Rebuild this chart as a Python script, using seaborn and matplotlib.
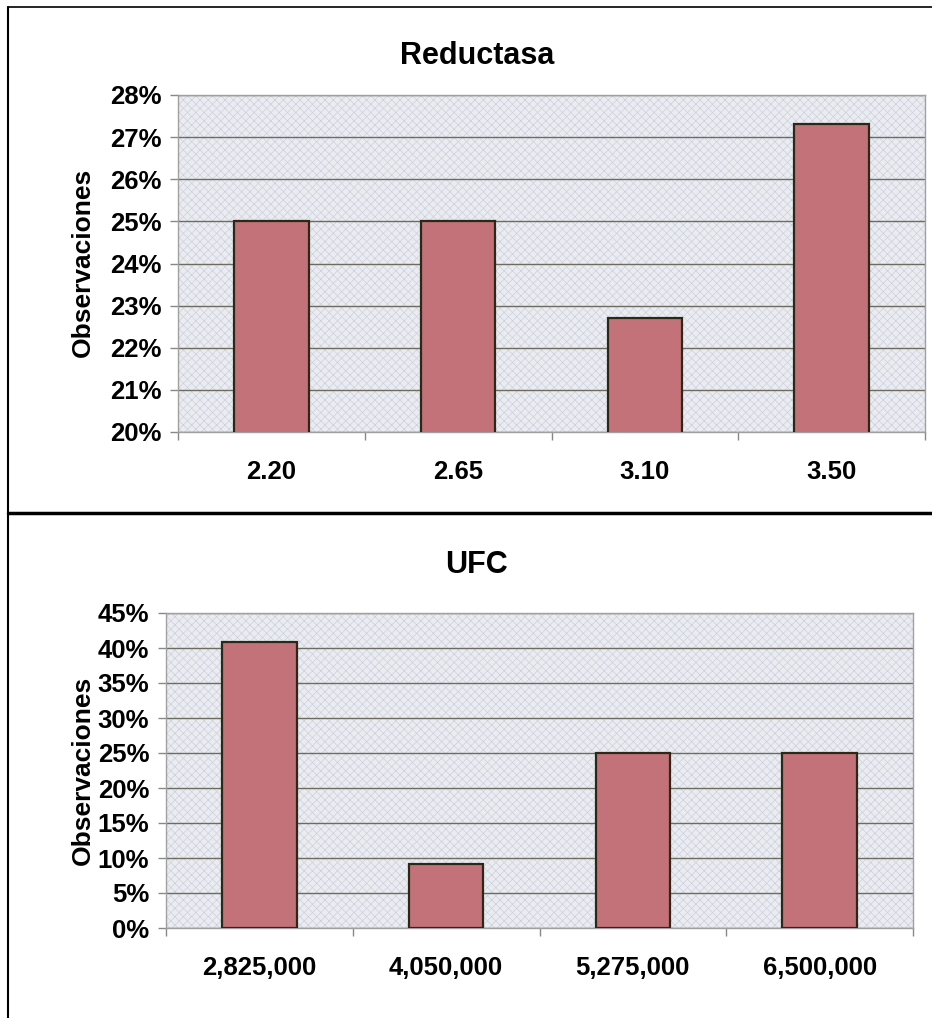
import numpy as np
import pandas as pd
import matplotlib
matplotlib.use("Agg")
import matplotlib.pyplot as plt
import seaborn as sns
from matplotlib.patches import Rectangle
from matplotlib.ticker import FixedLocator, PercentFormatter

# --- data ---
red_cats = ["2.20", "2.65", "3.10", "3.50"]
red_vals = [25.0, 25.0, 22.7, 27.3]

ufc_cats = ["2,825,000", "4,050,000", "5,275,000", "6,500,000"]
ufc_vals = [40.9, 9.1, 25.0, 25.0]

sns.set_style("white")
plt.rcParams["font.family"] = ["Liberation Sans", "DejaVu Sans"]
plt.rcParams["font.weight"] = "bold"
plt.rcParams["hatch.linewidth"] = 0.5
plt.rcParams["text.color"] = "black"
plt.rcParams["xtick.color"] = "black"
plt.rcParams["ytick.color"] = "black"

BAR = "#c27278"
EDGE = "#2b2818"
GRID = "#6d6c5e"
BG = "#eaecf2"

fig = plt.figure(figsize=(9.32, 10.18), dpi=100)
W, H = 932, 1018


def px_axes(l, t, r, b):
    return fig.add_axes([l / W, 1 - b / H, (r - l) / W, (b - t) / H])


def draw_panel(ax, cats, vals, ylim, ystep, title, ty, ly):
    df = pd.DataFrame({"cat": cats, "val": vals})
    ax.set_facecolor(BG)
    ax.add_patch(Rectangle((0, 0), 1, 1, transform=ax.transAxes, facecolor="none",
                           hatch="xxxx", edgecolor="#cdd0d9", lw=0, zorder=0))
    sns.barplot(data=df, x="cat", y="val", color=BAR, width=0.4, edgecolor=EDGE,
                linewidth=1.6, saturation=1, ax=ax, zorder=3)
    ax.set_ylim(*ylim)
    ax.set_xlim(-0.5, len(cats) - 0.5)
    ax.set_yticks(np.arange(ylim[0], ylim[1] + 0.01, ystep))
    ax.yaxis.set_major_formatter(PercentFormatter(decimals=0))
    ax.yaxis.grid(True, color=GRID, lw=1.0, zorder=1)
    ax.set_axisbelow(True)
    ax.tick_params(axis="y", direction="out", length=6, width=1, color="#888888",
                   labelcolor="black", pad=6, labelsize=18.5, left=True)
    ax.tick_params(axis="x", which="major", length=0, pad=20, labelsize=18.5,
                   labelcolor="black")
    ax.xaxis.set_minor_locator(FixedLocator(np.arange(-0.5, len(cats), 1.0)))
    ax.tick_params(axis="x", which="minor", direction="out", length=6, width=1,
                   color="#888888", bottom=True)
    for lab in ax.get_xticklabels() + ax.get_yticklabels():
        lab.set_fontweight("bold")
    for s in ax.spines.values():
        s.set_color("#a0a0a0")
        s.set_linewidth(1)
    ax.set_xlabel("")
    ax.set_ylabel("")
    fig.text(477 / W, 1 - ty / H, title, ha="center", va="center",
             fontsize=22, fontweight="bold", color="black")
    fig.text(83 / W, 1 - ly / H, "Observaciones", ha="center", va="center",
             rotation=90, fontsize=19, fontweight="bold", color="black")


ax1 = px_axes(178, 95, 925, 432)
draw_panel(ax1, red_cats, red_vals, (20, 28), 1, "Reductasa", 56, 262)

ax2 = px_axes(166, 613, 913, 928)
draw_panel(ax2, ufc_cats, ufc_vals, (0, 45), 5, "UFC", 565, 770)

# chart frames
fig.add_artist(plt.Line2D([8 / W, 8 / W], [0, 1 - 7 / H], transform=fig.transFigure,
                          color="black", lw=1.5))
fig.add_artist(plt.Line2D([8 / W, 1], [1 - 7 / H, 1 - 7 / H], transform=fig.transFigure,
                          color="black", lw=1.2))
fig.add_artist(plt.Line2D([8 / W, 1], [1 - 513 / H, 1 - 513 / H], transform=fig.transFigure,
                          color="black", lw=2.5))

fig.savefig("out.png", dpi=100, facecolor="white")
